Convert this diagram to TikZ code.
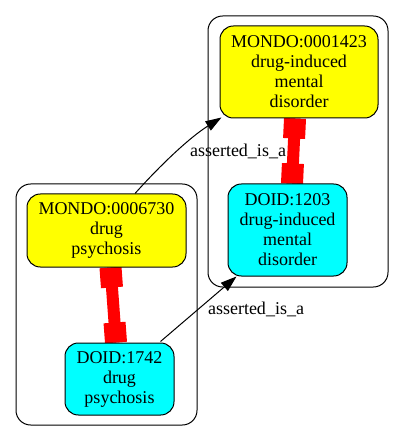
\documentclass[tikz,border=0pt]{standalone}
\usepackage{fontspec}
\setmainfont{Liberation Serif}
\usetikzlibrary{calc,arrows.meta,backgrounds}
\definecolor{gvyellow}{RGB}{255,255,0}
\definecolor{gvcyan}{RGB}{0,255,255}
\definecolor{gvred}{RGB}{255,0,0}
\begin{document}
\begin{tikzpicture}[x=0.75pt,y=-0.75pt,
 box/.style={draw=black,line width=0.75pt,rounded corners=10pt,align=center,
   font=\rmfamily\fontsize{13.5}{15}\selectfont,inner sep=0pt},
 mondo/.style={box,fill=gvyellow},
 doid/.style={box,fill=gvcyan},
 cluster/.style={draw=black,line width=0.75pt,rounded corners=11pt},
 isa/.style={-{Triangle[length=12pt,width=8pt]},line width=0.75pt},
 lbl/.style={font=\rmfamily\fontsize{13.5}{15}\selectfont,inner sep=0pt},
 eqshaft/.style={draw=gvred,line width=9pt},
 eqend/.style={draw=gvred,line width=16.5pt}]
\useasboundingbox (0,0) rectangle (405,441);
\draw[cluster] (208,16) rectangle (388,287);
\draw[cluster] (16,184) rectangle (197,425);
\node[mondo,minimum width=118.5pt,minimum height=69pt] (n1) at (299,72)
  {MONDO:0001423\\drug-induced\\mental\\disorder};
\node[doid,minimum width=89.25pt,minimum height=69pt] (n2) at (287.5,230)
  {DOID:1203\\drug-induced\\mental\\disorder};
\node[mondo,minimum width=119.25pt,minimum height=54.75pt] (n3) at (106.5,230.5)
  {MONDO:0006730\\drug\\psychosis};
\node[doid,minimum width=81.75pt,minimum height=54pt] (n4) at (119.5,379)
  {DOID:1742\\drug\\psychosis};
\coordinate (r1a) at ($(n1.south)+(-4,0)$);
\coordinate (r1b) at ($(n2.north)+(4.5,0)$);
\coordinate (r2a) at ($(n3.south)+(4,0)$);
\coordinate (r2b) at ($(n4.north)+(-3.5,0)$);
\begin{pgfonlayer}{background}
\draw[eqshaft] (r1a) -- (r1b);
\draw[eqend] (r1a) -- ($(r1a)!15pt!(r1b)$);
\draw[eqend] (r1b) -- ($(r1b)!15pt!(r1a)$);
\draw[eqshaft] (r2a) -- (r2b);
\draw[eqend] (r2a) -- ($(r2a)!15pt!(r2b)$);
\draw[eqend] (r2b) -- ($(r2b)!15pt!(r2a)$);
\end{pgfonlayer}
\coordinate (a1s) at ($(n3.north)+(28.5,0)$);
\coordinate (a1e) at ($(n1.south west)+(2,-1)$);
\draw[isa] (a1s) .. controls ($(a1s)+(25,-28)$) and ($(a1e)+(-32,20)$) .. (a1e);
\node[lbl] (l1) at (238,151) {asserted\_is\_a};
\coordinate (a2s) at ($(n4.north east)+(-14,-1)$);
\coordinate (a2e) at ($(n2.south west)+(9,0)$);
\draw[isa] (a2s) -- (a2e);
\node[lbl] (l2) at (256,309) {asserted\_is\_a};
\end{tikzpicture}
\end{document}
